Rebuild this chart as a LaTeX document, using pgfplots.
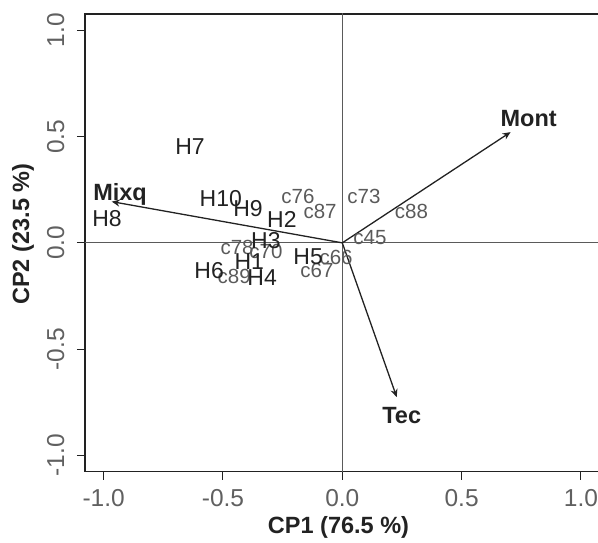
\documentclass[border=0pt]{standalone}
\usepackage{pgfplots}
\pgfplotsset{compat=1.18}
\usepackage{fontspec}
\setmainfont{Liberation Sans}
\usetikzlibrary{arrows.meta}
\definecolor{hcol}{HTML}{222222}
\definecolor{ccol}{HTML}{5A5A5A}
\definecolor{tcol}{HTML}{606060}

\pgfplotstableread{
x y lab
-0.638 0.453 H7
-0.509 0.212 H10
-0.395 0.163 H9
-0.253 0.111 H2
-0.986 0.116 H8
-0.320 0.014 H3
-0.390 -0.088 H1
-0.558 -0.127 H6
-0.336 -0.161 H4
-0.143 -0.061 H5
}\hlabels

\pgfplotstableread{
x y lab
-0.441 -0.020 c78
-0.320 -0.041 c70
-0.453 -0.155 c89
-0.026 -0.067 c66
-0.106 -0.127 c67
-0.186 0.218 c76
-0.093 0.147 c87
0.091 0.218 c73
0.290 0.147 c88
0.116 0.027 c45
}\clabels

\pgfplotstableread{
x y lab
-0.931 0.241 Mixq
0.781 0.587 Mont
0.249 -0.809 Tec
}\vlabels

\begin{document}
\begin{tikzpicture}
\begin{axis}[
    scale only axis,
    width=514.6bp, height=457.7bp,
    xmin=-1.078, xmax=1.078,
    ymin=-1.077, ymax=1.077,
    xtick={-1,-0.5,0,0.5,1},
    xticklabels={-1.0,-0.5,0.0,0.5,1.0},
    ytick={-1,-0.5,0,0.5,1},
    yticklabels={-1.0,-0.5,0.0,0.5,1.0},
    tick pos=left,
    tick align=outside,
    major tick length=8bp,
    tick style={hcol, line width=1bp},
    axis line style={hcol, line width=1.2bp},
    ticklabel style={font=\fontsize{24.5bp}{29bp}\selectfont, text=tcol},
    yticklabel style={rotate=90, anchor=south},
    yticklabel shift=9bp,
    xticklabel shift=6bp,
    xlabel={\bfseries CP1 (76.5 \%)},
    ylabel={\bfseries CP2 (23.5 \%)},
    label style={font=\fontsize{23.5bp}{28bp}\selectfont, text=hcol},
    xlabel style={at={(axis description cs:0.4926,-0.1208)}, anchor=center},
    ylabel style={at={(axis description cs:-0.1205,0.519)}, anchor=center, rotate=0},
]

% zero lines
\addplot[ccol, line width=0.9bp] coordinates {(-1.2,0) (1.2,0)};
\addplot[ccol, line width=0.9bp] coordinates {(0,-1.2) (0,1.2)};

% variable vectors
\addplot[hcol, line width=1.3bp, -{Stealth[length=8bp,width=7bp]}] coordinates {(0,0) (0.705,0.521)};
\addplot[hcol, line width=1.3bp, -{Stealth[length=8bp,width=7bp]}] coordinates {(0,0) (-0.966,0.194)};
\addplot[hcol, line width=1.3bp, -{Stealth[length=8bp,width=7bp]}] coordinates {(0,0) (0.228,-0.726)};

% c labels
\addplot[draw=none, no markers, nodes near coords, point meta=explicit symbolic,
    every node near coord/.append style={anchor=center, inner sep=0pt,
        text height=14.6bp, text depth=0pt, text=ccol,
        font=\fontsize{20.5bp}{24bp}\selectfont}]
    table[meta=lab] {\clabels};

% H labels
\addplot[draw=none, no markers, nodes near coords, point meta=explicit symbolic,
    every node near coord/.append style={anchor=center, inner sep=0pt,
        text height=16.5bp, text depth=0pt, text=hcol,
        font=\fontsize{23bp}{27bp}\selectfont}]
    table[meta=lab] {\hlabels};

% vector labels
\addplot[draw=none, no markers, nodes near coords, point meta=explicit symbolic,
    every node near coord/.append style={anchor=center, inner sep=0pt,
        text height=16.8bp, text depth=0pt, text=hcol,
        font=\fontsize{23.5bp}{28bp}\selectfont\bfseries}]
    table[meta=lab] {\vlabels};

\end{axis}
\pgfresetboundingbox
\path[use as bounding box] (-85bp,-71.3bp) rectangle (513bp,471.7bp);
\end{tikzpicture}
\end{document}
